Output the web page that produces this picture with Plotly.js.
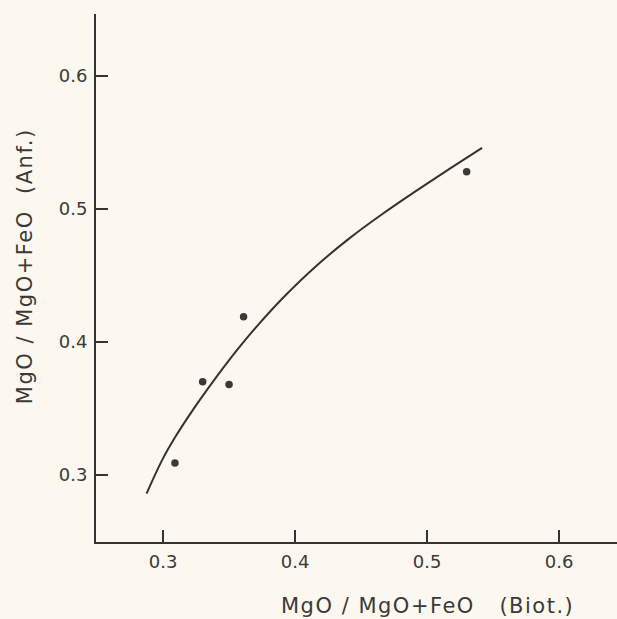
<!DOCTYPE html>
<html>
<head>
<meta charset="utf-8">
<script src="https://cdn.plot.ly/plotly-3.0.1.min.js"></script>
<style>
html,body{margin:0;padding:0;background:#fcf8ef;}
#chart{width:617px;height:619px;}
.annotation-text{letter-spacing:1.5px;}
</style>
</head>
<body>
<div id="chart"></div>
<script>
// Measured samples (MgO/MgO+FeO in biotite vs. amphibole)
const biotX = [0.309, 0.330, 0.350, 0.361, 0.530];
const anfY  = [0.309, 0.370, 0.368, 0.419, 0.528];

// Fitted curve
const curveX = [0.2875, 0.2992, 0.3091, 0.3220, 0.3348, 0.3470, 0.3598, 0.3727, 0.3902, 0.4152, 0.4409, 0.4659, 0.4909, 0.5167, 0.5417];
const curveY = [0.2860, 0.3110, 0.3283, 0.3480, 0.3660, 0.3824, 0.3985, 0.4136, 0.4325, 0.4564, 0.4777, 0.4960, 0.5130, 0.5300, 0.5460];

const tickVals = [0.3, 0.4, 0.5, 0.6];
const tickText = ['0.3', '0.4', '0.5', '0.6'];

const xTitle = 'MgO / MgO+FeO   (Biot.)';
const yTitle = 'MgO / MgO+FeO  (Anf.)';

const ink = '#333333';
const font = 'DejaVu Sans, Arial, sans-serif';

const traces = [
  {
    x: curveX, y: curveY, type: 'scatter', mode: 'lines',
    line: {color: ink, width: 2, shape: 'spline', smoothing: 1},
    hoverinfo: 'skip', showlegend: false
  },
  {
    x: biotX, y: anfY, type: 'scatter', mode: 'markers',
    marker: {color: '#3a3a3a', size: 7.5},
    showlegend: false
  }
];

const axisCommon = {
  showline: true, linecolor: ink, linewidth: 2,
  ticks: 'inside', ticklen: 12, tickwidth: 2, tickcolor: ink,
  tickvals: tickVals, ticktext: tickText,
  showgrid: false, zeroline: false,
  tickfont: {family: font, size: 18, color: '#3a3a3a'}
};

const layout = {
  width: 617, height: 619,
  margin: {l: 96, r: 0, t: 14, b: 77},
  paper_bgcolor: '#fcf8ef', plot_bgcolor: '#fcf8ef',
  showlegend: false,
  xaxis: Object.assign({}, axisCommon, {range: [0.2492, 0.6439], ticklabelstandoff: 2}),
  yaxis: Object.assign({}, axisCommon, {range: [0.2496, 0.6466], ticklabelstandoff: 3}),
  annotations: [
    {text: xTitle, xref: 'x', yref: 'paper', x: 0.50, y: 0, yanchor: 'top', yshift: -50,
     showarrow: false, font: {family: font, size: 21, color: '#3a3a3a'}},
    {text: yTitle, xref: 'paper', yref: 'y', x: 0, y: 0.457, xanchor: 'center', xshift: -71,
     textangle: -90, showarrow: false, font: {family: font, size: 21, color: '#3a3a3a'}}
  ]
};

Plotly.newPlot('chart', traces, layout, {displayModeBar: false, staticPlot: true});
</script>
</body>
</html>
